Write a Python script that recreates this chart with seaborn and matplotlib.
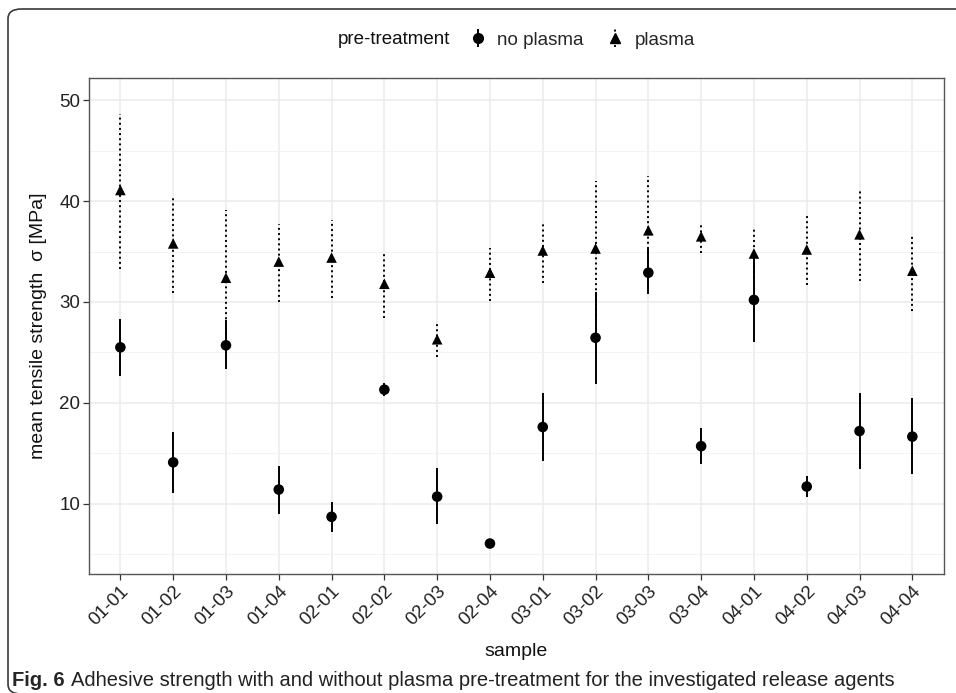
import numpy as np
import pandas as pd
import matplotlib
matplotlib.use("Agg")
import matplotlib.pyplot as plt
import seaborn as sns
from matplotlib.lines import Line2D
from matplotlib.legend_handler import HandlerTuple
from matplotlib.patches import FancyBboxPatch

samples = ["01-01", "01-02", "01-03", "01-04", "02-01", "02-02", "02-03", "02-04",
           "03-01", "03-02", "03-03", "03-04", "04-01", "04-02", "04-03", "04-04"]
noplasma_mean = [25.5, 14.1, 25.7, 11.4, 8.7, 21.3, 10.7, 6.05,
                 17.6, 26.45, 32.9, 15.7, 30.2, 11.7, 17.2, 16.65]
noplasma_lo = [22.7, 11.1, 23.35, 9.0, 7.2, 20.7, 8.0, 5.6,
               14.2, 21.9, 30.8, 13.9, 26.0, 10.65, 13.45, 12.9]
noplasma_hi = [28.3, 17.1, 28.2, 13.75, 10.2, 22.0, 13.5, 6.5,
               21.0, 31.0, 35.3, 17.5, 34.9, 12.75, 21.0, 20.45]
plasma_mean = [41.1, 35.8, 32.4, 34.0, 34.4, 31.8, 26.3, 32.9,
               35.1, 35.3, 37.1, 36.5, 34.8, 35.2, 36.7, 33.1]
plasma_lo = [33.3, 30.9, 25.7, 30.0, 30.4, 28.4, 24.5, 30.1,
             31.9, 28.6, 31.7, 34.9, 32.4, 31.7, 32.1, 29.1]
plasma_hi = [48.6, 40.4, 39.1, 37.7, 38.1, 34.8, 27.9, 35.3,
             37.7, 42.0, 42.5, 37.7, 37.2, 38.55, 41.0, 36.7]
groups = ["no plasma", "plasma"]

df = pd.DataFrame({
    "sample": samples * 2,
    "mean": noplasma_mean + plasma_mean,
    "lo": noplasma_lo + plasma_lo,
    "hi": noplasma_hi + plasma_hi,
    "pre-treatment": [groups[0]] * len(samples) + [groups[1]] * len(samples),
})

sns.set_theme(style="white")
plt.rcParams["font.family"] = ["Liberation Sans", "DejaVu Sans"]

W, H = 956, 693
fig = plt.figure(figsize=(W / 100, H / 100), dpi=100)

# outer frame (rounded corners, open on the right and bottom)
frame = FancyBboxPatch((8 / W, -1 / H), 1.2, 1 - 8 / H,
                       boxstyle="round,pad=0,rounding_size=0.014",
                       transform=fig.transFigure, fill=False,
                       edgecolor="#3a3a3a", linewidth=1.2, clip_on=False)
fig.patches.append(frame)

L, R, T, B = 88.7, 944, 78, 574.3
ax = fig.add_axes([L / W, 1 - B / H, (R - L) / W, (B - T) / H])
ax.set_facecolor("white")

# grids
ax.set_ylim(3.0, 52.2)
ax.set_yticks([10, 20, 30, 40, 50])
ax.set_yticks([5, 15, 25, 35, 45], minor=True)
ax.grid(True, which="major", color="#EBEBEB", linewidth=1.1, zorder=0)
ax.grid(True, which="minor", axis="y", color="#F3F3F3", linewidth=0.7, zorder=0)
ax.set_axisbelow(True)

styles = {"no plasma": ("-", "o"), "plasma": (":", "^")}
handles = []
for g in groups:
    sub = df[df["pre-treatment"] == g]
    ls, mk = styles[g]
    eb = ax.errorbar(sub["sample"], sub["mean"],
                     yerr=[sub["mean"] - sub["lo"], sub["hi"] - sub["mean"]],
                     fmt="none", ecolor="black", elinewidth=1.4, capsize=0, zorder=2)
    eb[2][0].set_linestyle(ls)
    handles.append(eb)

sns.scatterplot(data=df, x="sample", y="mean", style="pre-treatment",
                markers={"no plasma": "o", "plasma": "^"},
                color="black", s=58, edgecolor="black", linewidth=0,
                legend=False, ax=ax, zorder=3)

ax.set_xlim(-0.6, len(samples) - 0.4)

for s in ax.spines.values():
    s.set_visible(True)
    s.set_color("#555555")
    s.set_linewidth(1.0)

ax.tick_params(axis="both", which="major", length=4, width=0.9, color="#333333",
               labelsize=13.5, labelcolor="#222222", pad=2, bottom=True, left=True)
ax.tick_params(axis="y", which="minor", length=0, left=False)
plt.setp(ax.get_xticklabels(), rotation=45, ha="right", rotation_mode="anchor")

ax.set_xlabel("sample", fontsize=14, color="#111111", labelpad=10)
ax.set_ylabel("mean tensile strength  \u03c3 [MPa]", fontsize=14, color="#111111", labelpad=9)

# legend (title placed to the left, ggplot-style)
fig.text(338 / W, 1 - 40 / H, "pre-treatment", fontsize=13.5, va="center", ha="left", color="#111111")
mk_np = Line2D([], [], marker="o", color="black", linestyle="none", markersize=7)
mk_p = Line2D([], [], marker="^", color="black", linestyle="none", markersize=7)
leg = fig.legend([(handles[0], mk_np), (handles[1], mk_p)], groups,
                 handler_map={tuple: HandlerTuple(ndivide=1)},
                 loc="center left", bbox_to_anchor=(470 / W, 1 - 40 / H),
                 ncol=2, frameon=False, fontsize=13.5, handlelength=0.8,
                 handletextpad=0.65, columnspacing=1.25, borderpad=0, borderaxespad=0)

# caption
fig.text(12 / W, 1 - 681 / H, "Fig. 6", fontsize=14.5, fontweight="bold", va="center", ha="left")
fig.text(71 / W, 1 - 681 / H,
         "Adhesive strength with and without plasma pre-treatment for the investigated release agents",
         fontsize=14.5, va="center", ha="left", color="#222222")

fig.savefig("out.png", dpi=100)
